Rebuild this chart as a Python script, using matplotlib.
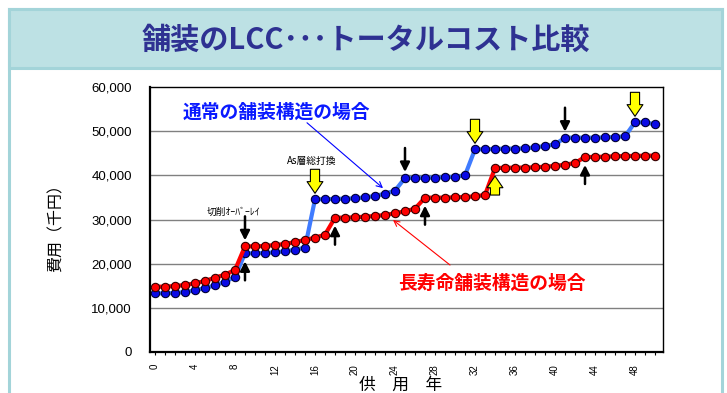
import matplotlib
matplotlib.use("Agg")
import matplotlib.pyplot as plt
from matplotlib.patches import Rectangle

plt.rcParams['font.family'] = ['Noto Sans CJK JP', 'DejaVu Sans']

# ---------------- data ----------------
years = list(range(0, 51))

cost_normal = [13280, 13280, 13360, 13585, 13960, 14490, 15090, 15920, 16980,
               22340, 22340, 22420, 22570, 22790, 23170, 23620,
               34570, 34600, 34640, 34720, 34790, 35020, 35320, 35850, 36530,
               39400, 39400, 39450, 39500, 39550, 39700, 40000,
               45890, 45890, 45960, 46040, 46040, 46100, 46330, 46640, 47010,
               48520, 48520, 48520, 48520, 48600, 48680, 48830,
               52000, 52000, 51550]

cost_long = [14790, 14790, 14940, 15170, 15550, 16075, 16830, 17510, 18570,
             23920, 23920, 24000, 24230, 24450, 24900, 25360, 25880, 26560,
             30410, 30410, 30490, 30640, 30790, 31020, 31400, 31850, 32450,
             34940, 34940, 34940, 35020, 35090, 35250, 35550,
             41650, 41700, 41730, 41760, 41800, 41960, 42110, 42410, 42790,
             44150, 44150, 44230, 44300, 44380, 44380, 44450, 44450]

y_ticks = [0, 10000, 20000, 30000, 40000, 50000, 60000]
x_label_years = list(range(0, 49, 4))

# repair events: (year, series, direction, kind)
events = [
    (9, 'long', 'down', 'black'),
    (9, 'normal', 'up', 'black'),
    (16, 'normal', 'down', 'yellow'),
    (18, 'long', 'up', 'black'),
    (25, 'normal', 'down', 'black'),
    (27, 'long', 'up', 'black'),
    (32, 'normal', 'down', 'yellow'),
    (34, 'long', 'up', 'yellow'),
    (41, 'normal', 'down', 'black'),
    (43, 'long', 'up', 'black'),
    (48, 'normal', 'down', 'yellow'),
]

title = '舗装のLCC･･･トータルコスト比較'
label_normal = '通常の舗装構造の場合'
label_long = '長寿命舗装構造の場合'
note_as = 'As層総打換'
note_cut = '切削ｵｰﾊﾞｰﾚｲ'
xlabel = '供　用　年'
ylabel = '費用（千円）'

# ---------------- figure ----------------
W, H = 727, 393
fig = plt.figure(figsize=(W / 100, H / 100), dpi=100)
fig.patch.set_facecolor('white')

def fx(px):
    return px / W

def fy(py):
    return 1 - py / H

teal_edge = '#a3d4d9'
teal_fill = '#bde1e4'
# outer frame
fig.add_artist(Rectangle((fx(9), -0.05), fx(713), fy(9) + 0.05,
                         transform=fig.transFigure, fc='white',
                         ec=teal_edge, lw=2.2, zorder=0))
# title band
fig.add_artist(Rectangle((fx(9), fy(68)), fx(713), 59 / H,
                         transform=fig.transFigure, fc=teal_fill,
                         ec=teal_edge, lw=2.2, zorder=0))
fig.text(fx(366), fy(40), title, ha='center', va='center',
         fontsize=21, fontweight='bold', color='#2e3192')

ax = fig.add_axes([fx(150), fy(352), fx(663 - 150), (352 - 87) / H])
ax.set_facecolor('white')
ax.set_xlim(-0.5, 50.8)
ax.set_ylim(0, 60000)

for v in y_ticks[1:-1]:
    ax.axhline(v, color='#808080', lw=1.0, zorder=1)

ax.plot(years, cost_normal, color='#3f7bff', lw=3.0, zorder=3,
        marker='o', ms=6.0, mfc='#0a0ae6', mec='#000033', mew=0.8)
ax.plot(years, cost_long, color='#ff0000', lw=3.0, zorder=4,
        marker='o', ms=6.0, mfc='#ff0000', mec='#330000', mew=0.8)

for s in ['top', 'right']:
    ax.spines[s].set_linewidth(1.0)
for s in ['left', 'bottom']:
    ax.spines[s].set_linewidth(1.6)

ax.set_yticks(y_ticks)
ax.set_yticklabels([f'{v:,}' for v in y_ticks], family='Liberation Sans',
                   fontsize=9.5)
ax.tick_params(axis='y', length=0, pad=13)

ax.set_xticks(years)
ax.set_xticklabels([str(y) if y in x_label_years else '' for y in years],
                   rotation=90, family='Liberation Sans', fontsize=7)
ax.tick_params(axis='x', length=2.5, width=0.8, direction='out', pad=6)

fig.text(fx(401), fy(385), xlabel, ha='center', va='center', fontsize=12)
fig.text(fx(56), fy(224), ylabel, ha='center', va='center', fontsize=11.5,
         rotation=90)

# labels with pointers
ax.text(2.8, 54300, label_normal, ha='left', va='center', fontsize=13.5,
        fontweight='bold', color='#0a1aff')
ax.text(24.3, 15600, label_long, ha='left', va='center', fontsize=13.5,
        fontweight='bold', color='#ff0000')
ax.annotate('', xy=(22.8, 37100), xytext=(15.2, 51900),
            arrowprops=dict(arrowstyle='->,head_length=0.4,head_width=0.2',
                            color='#0000ff', lw=0.8, shrinkA=0, shrinkB=0),
            zorder=6)
ax.annotate('', xy=(23.8, 29900), xytext=(29.5, 19700),
            arrowprops=dict(arrowstyle='->,head_length=0.4,head_width=0.2',
                            color='#ff0000', lw=0.8, shrinkA=0, shrinkB=0),
            zorder=6)
ax.text(15.7, 43200, note_as, ha='center', va='center', fontsize=7)
ax.text(7.85, 31700, note_cut, ha='center', va='center', fontsize=7)

# repair arrows
series = {'normal': cost_normal, 'long': cost_long}
k = 0.72  # px -> pt
for yr, sname, direction, kind in events:
    val = series[sname][yr]
    if direction == 'down':
        tail, tip = 30, 6
        sign = 1
    else:
        tail, tip = 27, 8
        sign = -1
    if kind == 'black':
        props = dict(arrowstyle='-|>,head_length=0.55,head_width=0.28',
                     color='black', lw=1.8, shrinkA=0, shrinkB=tip * k,
                     mutation_scale=10)
    else:
        props = dict(arrowstyle='simple,head_length=0.7,head_width=0.95,tail_width=0.55',
                     fc='#ffff00', ec='black', lw=0.8, shrinkA=0,
                     shrinkB=tip * k, mutation_scale=12)
    ax.annotate('', xy=(yr, val), xytext=(0, sign * tail * k),
                textcoords='offset points', arrowprops=props, zorder=7)

fig.savefig('out.png', dpi=100)
